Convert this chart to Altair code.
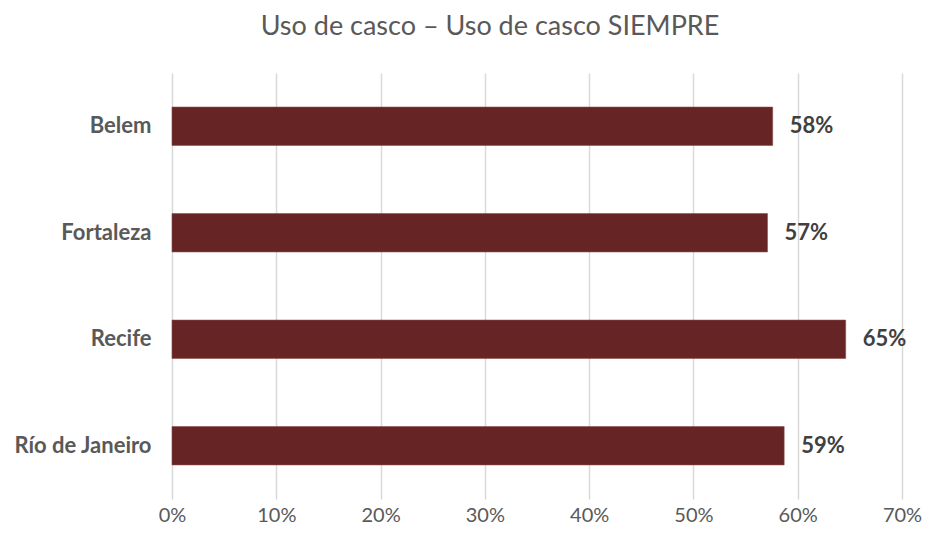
import altair as alt
import pandas as pd

cities = ["Belem", "Fortaleza", "Recife", "Río de Janeiro"]
values = [0.576, 0.571, 0.646, 0.587]
labels = ["58%", "57%", "65%", "59%"]

df = pd.DataFrame({"city": cities, "value": values, "label": labels})

FONT = "Lato"

base = alt.Chart(df).encode(
    y=alt.Y("city:N", sort=cities, title=None,
            scale=alt.Scale(paddingInner=0.64, paddingOuter=0.32),
            axis=alt.Axis(domain=False, ticks=False, labelFontWeight="bold",
                          labelFontSize=22, labelColor="#595959", labelFont=FONT,
                          labelPadding=21))
)

bars = base.mark_bar(color="#662425", stroke="#8a4a4a", strokeWidth=0.6).encode(
    x=alt.X("value:Q", title=None,
            scale=alt.Scale(domain=[0, 0.7], nice=False),
            axis=alt.Axis(format="%", values=[0, 0.1, 0.2, 0.3, 0.4, 0.5, 0.6, 0.7],
                          domain=False, ticks=False, grid=True, gridColor="#d9d9d9",
                          gridWidth=1.5, labelFontSize=20, labelColor="#595959",
                          labelFont=FONT, labelPadding=6, labelFlush=False))
)

text = base.mark_text(align="left", dx=17, fontSize=22, fontWeight="bold",
                      color="#404040", font=FONT).encode(
    x="value:Q", text="label:N"
)

chart = (bars + text).properties(
    width=730, height=426,
    background="white",
    title=alt.TitleParams("Uso de casco – Uso de casco SIEMPRE", fontSize=27,
                          fontWeight="normal", color="#595959", font=FONT,
                          dx=-47, offset=32),
    autosize=alt.AutoSizeParams(type="none"),
    padding={"left": 164, "top": 65, "right": 20, "bottom": 34},
).configure_view(stroke=None)

chart.save("out.html", embed_options={"renderer": "svg", "actions": False})
